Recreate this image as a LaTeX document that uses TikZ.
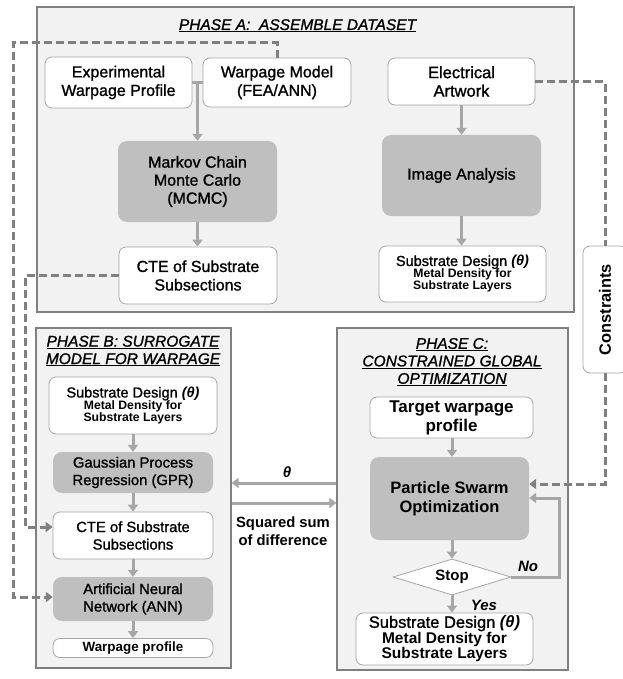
\documentclass[tikz,border=0pt]{standalone}
\usepackage{fontspec}
\setmainfont{Liberation Sans}[UprightFeatures={FakeBold=1.2},ItalicFeatures={FakeBold=1.2}]
\usetikzlibrary{arrows.meta,shapes.geometric}
\definecolor{phasefill}{HTML}{F2F2F2}
\definecolor{phasedraw}{HTML}{808080}
\definecolor{boxdraw}{HTML}{A6A6A6}
\definecolor{darkfill}{HTML}{BFBFBF}
\definecolor{arrgray}{HTML}{A6A6A6}
\definecolor{dashgray}{HTML}{808080}
\newcommand{\fs}[2]{\fontsize{#1}{#2}\selectfont}
\begin{document}
\begin{tikzpicture}[x=1pt,y=-1pt,
  phase/.style={draw=phasedraw,fill=phasefill,line width=1.2pt,inner sep=0pt},
  wbox/.style={draw=boxdraw,fill=white,rounded corners=7pt,line width=0.8pt,inner sep=0pt,align=center},
  gbox/.style={fill=darkfill,draw=none,rounded corners=9pt,inner sep=0pt,align=center},
  ttl/.style={inner sep=0pt,align=center,font=\fs{15.5}{17.5}\itshape},
  lbl/.style={inner sep=0pt,align=center},
  arr/.style={draw=arrgray,line width=3pt,-{Triangle[width=10pt,length=7pt]}},
  arrline/.style={draw=arrgray,line width=3pt},
  dsh/.style={draw=dashgray,line width=3pt,dash pattern=on 8pt off 4pt},
  dsharr/.style={dsh,-{Triangle[width=10pt,length=7pt]}}]
\useasboundingbox (0,0) rectangle (622,679);
\fill[white] (0,0) rectangle (622,679);
% phase boxes
\node[phase,minimum width=537pt,minimum height=305pt] (phA) at (305.5,159.5) {};
\node[phase,minimum width=195pt,minimum height=340pt] (phB) at (133.5,498) {};
\node[phase,minimum width=231pt,minimum height=342pt] (phC) at (452.5,499) {};
% titles
\node[ttl,anchor=base] (tA) at (297.5,30) {\underline{PHASE A:\ \ ASSEMBLE DATASET}};
\node[ttl] (tB) at (133,351) {\underline{PHASE B: SURROGATE}\\\underline{MODEL FOR WARPAGE}};
\node[ttl] (tC) at (452,362) {\underline{PHASE C:}\\\underline{CONSTRAINED GLOBAL}\\\underline{OPTIMIZATION}};
% phase A
\node[wbox,minimum width=147pt,minimum height=51pt,font=\fs{16}{18.5}] (exp) at (118.5,82.5) {Experimental\\Warpage Profile};
\node[wbox,minimum width=148pt,minimum height=49pt,font=\fs{16}{18.5}] (wm) at (277,82.5) {Warpage Model\\(FEA/ANN)};
\node[wbox,minimum width=147pt,minimum height=47pt,font=\fs{16.5}{18.5}] (ea) at (461.5,81.5) {Electrical\\Artwork};
\node[gbox,minimum width=159pt,minimum height=81pt,font=\fs{16}{18}] (mcmc) at (197.5,181.5) {Markov Chain\\Monte Carlo\\(MCMC)};
\node[gbox,minimum width=159pt,minimum height=81pt,font=\fs{16}{18}] (ia) at (461.5,175.5) {Image Analysis};
\node[wbox,minimum width=158pt,minimum height=57pt,font=\fs{16}{18.5}] (cteA) at (198,275.5) {CTE of Substrate\\Subsections};
\node[wbox,minimum width=167pt,minimum height=56pt] (sdA) at (462.5,274) {{\fs{14.5}{16}Substrate Design \textbf{\textit{(θ)}}}\\{\fs{12.2}{14.5}\bfseries Metal Density for}\\{\fs{12.2}{14.5}\bfseries Substrate Layers}};
% phase B
\node[wbox,minimum width=168pt,minimum height=57pt] (sdB) at (133,405.5) {{\fs{14.5}{16}Substrate Design \textbf{\textit{(θ)}}}\\{\fs{12.2}{14.5}\bfseries Metal Density for}\\{\fs{12.2}{14.5}\bfseries Substrate Layers}};
\node[gbox,minimum width=160pt,minimum height=41pt,font=\fs{14.8}{17.5}] (gpr) at (133,472.5) {Gaussian Process\\Regression (GPR)};
\node[wbox,minimum width=160pt,minimum height=47pt,font=\fs{14.8}{17.5}] (cteB) at (133,535.5) {CTE of Substrate\\Subsections};
\node[gbox,minimum width=160pt,minimum height=44pt,font=\fs{14.8}{17.5}] (ann) at (133,599) {Artificial Neural\\Network (ANN)};
\node[wbox,minimum width=160pt,minimum height=19pt,font=\fs{13.4}{15}\bfseries] (wp) at (133,648) {Warpage profile};
% phase C
\node[wbox,minimum width=163pt,minimum height=41pt,font=\fs{17}{19}\bfseries] (tw) at (451.5,417.5) {Target warpage\\profile};
\node[gbox,minimum width=159pt,minimum height=83pt,font=\fs{16.5}{19.5}\bfseries] (pso) at (449.5,498.5) {Particle Swarm\\Optimization};
\node[diamond,draw=boxdraw,fill=white,line width=0.8pt,inner sep=0pt,minimum width=118pt,minimum height=36pt,aspect=3.3,font=\fs{15}{17}\bfseries] (stop) at (452,577) {Stop};
\node[wbox,minimum width=177pt,minimum height=52pt] (sdC) at (444.5,639) {{\fs{16.5}{17.5}Substrate Design \textbf{\textit{(θ)}}}\\{\fs{15.5}{17}\bfseries Metal Density for}\\{\fs{15.5}{17}\bfseries Substrate Layers}};
% constraints
\node[wbox,rotate=90,minimum width=127pt,minimum height=44pt,font=\fs{16.4}{18}\bfseries] (con) at (605,309.5) {Constraints};
% solid arrows phase A
\draw[arrline] (exp.east) -- (wm.west);
\draw[arr] (mcmc.north |- exp.east) -- (mcmc.north);
\draw[arr] (mcmc.south) -- (mcmc.south |- cteA.north);
\draw[arr] (ea.south) -- (ea.south |- ia.north);
\draw[arr] (ia.south) -- (ia.south |- sdA.north);
% phase B
\draw[arr] (sdB.south) -- (gpr.north);
\draw[arr] (gpr.south) -- (cteB.north);
\draw[arr] (cteB.south) -- (ann.north);
\draw[arr] (ann.south) -- (wp.north);
% phase C
\draw[arr] (tw.south -| stop.north) -- (stop.north |- pso.north);
\draw[arr] (stop.north |- pso.south) -- (stop.north);
\draw[arr] (stop.south) -- (stop.south |- sdC.north);
\coordinate (noc) at (559,577);
\draw[arr] (stop.east) -- (noc) |- (pso.east |- 0,498);
\node[lbl,font=\fs{15}{17}\bfseries\itshape] (no) at (528,566) {No};
\node[lbl,font=\fs{15}{17}\bfseries\itshape] (yes) at (484,605) {Yes};
% between B and C
\draw[arr] (phC.west |- 0,483) -- (phB.east |- 0,483);
\draw[arr] (phB.east |- 0,503) -- (phC.west |- 0,503);
\node[lbl,font=\fs{15}{17}\bfseries\itshape] (theta) at (287,472) {θ};
\node[lbl,font=\fs{14.8}{18}\bfseries] (ssd) at (283,531) {Squared sum\\of difference};
% dashed connectors
\draw[dsharr] (wm.north) |- (13,43) |- (ann.west |- 0,597);
\draw[dsharr] (cteA.west) -| (25,527) -- (cteB.west |- 0,527);
\draw[dsh] (ea.east) -| (con.east);
\draw[dsharr] (con.west) |- (pso.east |- 0,484);
\end{tikzpicture}
\end{document}
